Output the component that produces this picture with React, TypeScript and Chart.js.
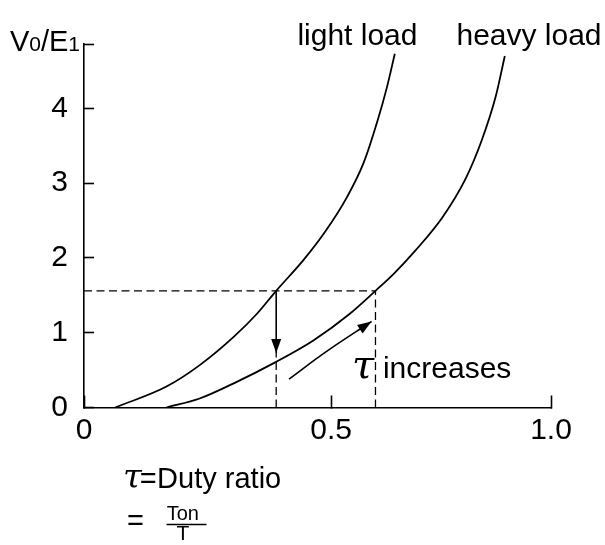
import React, { useEffect, useRef } from 'react';
import { Chart, registerables, LinearScale } from 'chart.js';

// ---- axis ticks ----
const X_TICKS = [0, 0.5, 1.0];
const X_TICK_LABELS = ['0', '0.5', '1.0'];
// the reference axis places 0.5 at 52.9% of the axis length (drawn, not strictly linear)
const X_KNOT_VALUES = [0, 0.5, 1.0];
const X_KNOT_FRACTIONS = [0, 0.529, 1.0];
const Y_MAX = 4.86;
const Y_TICKS = [0, 1, 2, 3, 4, Y_MAX];
const Y_TICK_LABELS = ['0', '1', '2', '3', '4', ''];

// ---- curves: duty ratio tau -> V0/E1 ----
const LIGHT_TAU = [0.063, 0.167, 0.237, 0.304, 0.351, 0.389, 0.444, 0.489, 0.535, 0.574, 0.606, 0.627, 0.645];
const LIGHT_V = [0, 0.28, 0.58, 0.95, 1.26, 1.56, 1.97, 2.36, 2.8, 3.27, 3.84, 4.28, 4.73];
const HEAVY_TAU = [0.167, 0.234, 0.302, 0.386, 0.465, 0.542, 0.601, 0.643, 0.692, 0.753, 0.806, 0.843, 0.874, 0.895];
const HEAVY_V = [0, 0.12, 0.32, 0.6, 0.9, 1.25, 1.56, 1.79, 2.1, 2.54, 3.06, 3.58, 4.15, 4.7];

// ---- guides and arrows ----
const OPERATING_V = 1.56;
const LIGHT_OP_TAU = 0.389;
const HEAVY_OP_TAU = 0.601;
const DROP_TO_V = 0.73;
const INCREASE_TAU = [0.415, 0.491, 0.592];
const INCREASE_V = [0.38, 0.75, 1.15];

// ---- text annotations, anchored in (tau, V0/E1) data coordinates ----
const SANS = '"Liberation Sans", Arial, sans-serif';
const GREEK = '"DejaVu Serif", serif';
const ANNOTATIONS = [
  { text: 'light load', x: 0.56, y: 4.84, font: `30px ${SANS}`, align: 'center' },
  { text: 'heavy load', x: 0.95, y: 4.84, font: `30px ${SANS}`, align: 'center' },
  { text: 'τ', x: 0.573, y: 0.4, font: `italic 40px ${GREEK}`, align: 'center' },
  { text: 'increases', x: 0.618, y: 0.4, font: `30px ${SANS}`, align: 'left' },
  { text: 'τ', x: 0.098, y: -1.077, font: `italic 34px ${GREEK}`, align: 'center' },
  { text: '=', x: 0.113, y: -1.077, font: `29px ${SANS}`, align: 'left' },
  { text: 'Duty ratio', x: 0.148, y: -1.077, font: `29px ${SANS}`, align: 'left' },
  { text: '=', x: 0.087, y: -1.64, font: `29px ${SANS}`, align: 'left' },
  { text: 'Ton', x: 0.2, y: -1.5, font: `20px ${SANS}`, align: 'center' },
  { text: 'T', x: 0.2, y: -1.77, font: `21px ${SANS}`, align: 'center' },
];
const FRACTION_BAR = { x1: 0.167, x2: 0.248, y: -1.565 };
const Y_TITLE_PARTS: [string, number][] = [['V', 29], ['0', 21], ['/E', 29], ['1', 21]];
const Y_TITLE_AT = { x: -0.15, y: 4.77 };

function interp(v: number, xs: number[], ys: number[]) {
  let i = 0;
  while (i < xs.length - 2 && v > xs[i + 1]) i++;
  const t = (v - xs[i]) / (xs[i + 1] - xs[i]);
  return ys[i] + t * (ys[i + 1] - ys[i]);
}

class KnottedScale extends LinearScale {
  static id = 'knotted';
  getPixelForValue(value: number) {
    return this.getPixelForDecimal(interp(value, X_KNOT_VALUES, X_KNOT_FRACTIONS));
  }
  getValueForPixel(pixel: number) {
    return interp(this.getDecimalForPixel(pixel), X_KNOT_FRACTIONS, X_KNOT_VALUES);
  }
}

Chart.register(...registerables, KnottedScale);

const zip = (xs: number[], ys: number[]) => xs.map((x, i) => ({ x, y: ys[i] }));

const decorations = {
  id: 'decorations',
  afterDatasetsDraw(chart: any) {
    const ctx = chart.ctx;
    chart.data.datasets.forEach((ds: any, i: number) => {
      if (!ds.arrowHead) return;
      const pts = chart.getDatasetMeta(i).data;
      const tip = pts[pts.length - 1];
      const prev = pts[pts.length - 2];
      let bx = prev.x, by = prev.y;
      if (typeof tip.cp1x === 'number' && Math.hypot(tip.x - tip.cp1x, tip.y - tip.cp1y) > 0.5) {
        bx = tip.cp1x; by = tip.cp1y;
      }
      const len = Math.hypot(tip.x - bx, tip.y - by);
      const dx = (tip.x - bx) / len, dy = (tip.y - by) / len;
      const L = 14, W = 5;
      const backX = tip.x - dx * L, backY = tip.y - dy * L;
      ctx.save();
      ctx.fillStyle = '#000';
      ctx.beginPath();
      ctx.moveTo(tip.x, tip.y);
      ctx.lineTo(backX - dy * W, backY + dx * W);
      ctx.lineTo(backX + dy * W, backY - dx * W);
      ctx.closePath();
      ctx.fill();
      ctx.restore();
    });
  },
  afterDraw(chart: any) {
    const ctx = chart.ctx;
    const xs = chart.scales.x, ys = chart.scales.y;
    ctx.save();
    ctx.fillStyle = '#000';
    ctx.strokeStyle = '#000';
    ctx.textBaseline = 'alphabetic';
    for (const a of ANNOTATIONS) {
      ctx.font = a.font;
      ctx.textAlign = a.align;
      ctx.fillText(a.text, xs.getPixelForValue(a.x), ys.getPixelForValue(a.y));
    }
    // fraction bar of Ton / T
    ctx.lineWidth = 1.5;
    ctx.beginPath();
    const fy = ys.getPixelForValue(FRACTION_BAR.y);
    ctx.moveTo(xs.getPixelForValue(FRACTION_BAR.x1), fy);
    ctx.lineTo(xs.getPixelForValue(FRACTION_BAR.x2), fy);
    ctx.stroke();
    // V0/E1 axis title
    let tx = xs.getPixelForValue(Y_TITLE_AT.x);
    const ty = ys.getPixelForValue(Y_TITLE_AT.y);
    ctx.textAlign = 'left';
    for (const [t, size] of Y_TITLE_PARTS) {
      ctx.font = `${size}px ${SANS}`;
      ctx.fillText(t, tx, ty);
      tx += ctx.measureText(t).width;
    }
    ctx.restore();
  },
};

const base = {
  showLine: true,
  borderColor: '#000',
  backgroundColor: '#000',
  pointRadius: 0,
  pointHoverRadius: 0,
  fill: false,
};
const dashed = { ...base, borderWidth: 1.3, borderDash: [8, 4.5] };

export default function App() {
  const ref = useRef<HTMLCanvasElement>(null);
  useEffect(() => {
    const tickFont = { family: 'Liberation Sans', size: 30 };
    const chart = new Chart(ref.current as HTMLCanvasElement, {
      type: 'scatter',
      data: {
        datasets: [
          { ...dashed, label: 'operating level', data: [{ x: 0, y: OPERATING_V }, { x: HEAVY_OP_TAU, y: OPERATING_V }] },
          { ...dashed, label: 'light drop', data: [{ x: LIGHT_OP_TAU, y: 0 }, { x: LIGHT_OP_TAU, y: DROP_TO_V }] },
          { ...dashed, label: 'heavy drop', data: [{ x: HEAVY_OP_TAU, y: 0 }, { x: HEAVY_OP_TAU, y: OPERATING_V }] },
          { ...base, label: 'light load', borderWidth: 1.8, cubicInterpolationMode: 'monotone', data: zip(LIGHT_TAU, LIGHT_V) },
          { ...base, label: 'heavy load', borderWidth: 1.8, cubicInterpolationMode: 'monotone', data: zip(HEAVY_TAU, HEAVY_V) },
          { ...base, label: 'load change', borderWidth: 1.6, arrowHead: true, data: [{ x: LIGHT_OP_TAU, y: OPERATING_V }, { x: LIGHT_OP_TAU, y: DROP_TO_V }] },
          { ...base, label: 'tau increases', borderWidth: 1.6, arrowHead: true, tension: 0.4, data: zip(INCREASE_TAU, INCREASE_V) },
        ] as any,
      },
      options: {
        animation: false,
        responsive: false,
        devicePixelRatio: 1,
        events: [],
        layout: { padding: { top: 35, right: 54, left: 0, bottom: 0 } },
        plugins: { legend: { display: false }, tooltip: { enabled: false } },
        scales: {
          x: {
            type: 'knotted' as any,
            min: 0,
            max: 1,
            afterBuildTicks: (s: any) => { s.ticks = X_TICKS.map((v) => ({ value: v })); },
            afterFit: (s: any) => { s.height = 137.5; },
            ticks: { autoSkip: false, maxRotation: 0, padding: 17, color: '#000', font: tickFont, callback: (_v: any, i: number) => X_TICK_LABELS[i] },
            grid: { drawOnChartArea: false, drawTicks: true, tickLength: -12, tickColor: '#000', tickWidth: 1.6 },
            border: { display: true, color: '#000', width: 1.6 },
          },
          y: {
            type: 'linear',
            min: 0,
            max: Y_MAX,
            afterBuildTicks: (s: any) => { s.ticks = Y_TICKS.map((v) => ({ value: v })); },
            afterFit: (s: any) => { s.width = 84; },
            ticks: { autoSkip: false, padding: 26, color: '#000', font: tickFont, callback: (_v: any, i: number) => Y_TICK_LABELS[i] },
            grid: { drawOnChartArea: false, drawTicks: true, tickLength: -10, tickColor: '#000', tickWidth: 1.6 },
            border: { display: true, color: '#000', width: 1.6 },
          },
        },
      },
      plugins: [decorations],
    } as any);
    return () => chart.destroy();
  }, []);
  return (
    <div style={{ position: 'absolute', left: 0, top: 0, width: 605, height: 545, background: '#fff' }}>
      <canvas ref={ref} width={605} height={545} style={{ display: 'block', width: 605, height: 545 }} />
    </div>
  );
}
